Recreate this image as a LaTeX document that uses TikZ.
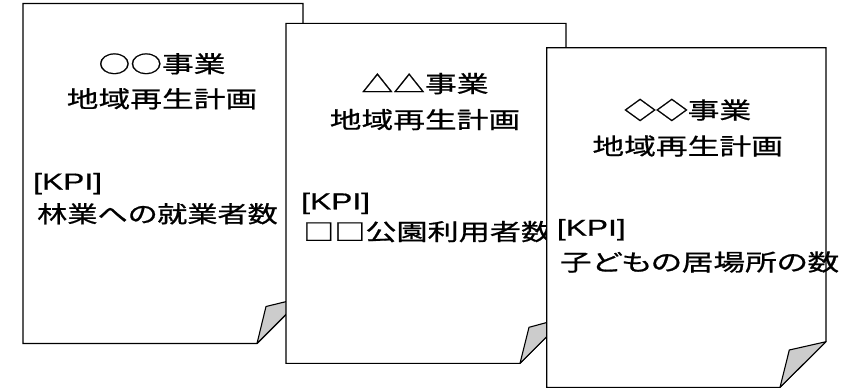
\documentclass[tikz,border=0pt]{standalone}
\usepackage{fontspec}
\usepackage{graphicx}
\newfontfamily\jp[FakeStretch=1.38,FakeBold=0.8]{Noto Sans CJK JP}
\newfontfamily\jpp[FakeStretch=1.38,FakeBold=0.8,RawFeature=+palt]{Noto Sans CJK JP}
\newfontfamily\lat[FakeStretch=1.38,FakeBold=0.5]{Liberation Sans}
\begin{document}
\begin{tikzpicture}[x=1bp,y=-1bp,
  page/.style={draw=black,line width=1.1bp,fill=white,line join=miter},
  flap/.style={draw=black,line width=1.1bp,fill=gray!40,line join=round},
  title/.style={anchor=base,inner sep=0pt,font=\jp\fontsize{23bp}{23bp}\selectfont},
  kpi/.style={anchor=base west,inner sep=0pt,font=\lat\fontsize{23bp}{23bp}\selectfont},
  item/.style={anchor=base west,inner sep=0pt,font=\jpp\fontsize{23bp}{23bp}\selectfont}]
\useasboundingbox (0,0) rectangle (843,391);

% page 1
\begin{scope}[shift={(23,3.5)}]
  \path[page] (0,0) coordinate (p1tl) -- (280,0) -- (280,294) coordinate (p1r) -- (234,340) coordinate (p1b) -- (0,340) -- cycle;
  \path[flap] (p1b) -- (243,303) coordinate (p1f) -- (p1r) -- cycle;
  \node[title] (t1a) at (139,69) {○○事業};
  \node[title] (t1b) at (139,104) {地域再生計画};
  \node[kpi] (k1) at (10,186) {[KPI]};
  \node[item] (i1) at (14,219) {\scalebox{0.95}[1]{林業への就業者数}};
\end{scope}

% page 2
\begin{scope}[shift={(286,23.3)}]
  \path[page] (0,0) coordinate (p2tl) -- (280,0) -- (280,294) coordinate (p2r) -- (234,340) coordinate (p2b) -- (0,340) -- cycle;
  \path[flap] (p2b) -- (243,304) coordinate (p2f) -- (p2r) -- cycle;
  \node[title] (t2a) at (139,69) {△△事業};
  \node[title] (t2b) at (139,105) {地域再生計画};
  \node[kpi] (k2) at (15,186) {[KPI]};
  \node[item] (i2) at (17,217) {\scalebox{0.98}[1]{□□公園利用者数}};
\end{scope}

% page 3
\begin{scope}[shift={(546.7,47.7)}]
  \path[page] (0,0) coordinate (p3tl) -- (279.3,0) -- (279.3,294) coordinate (p3r) -- (233.3,339.6) coordinate (p3b) -- (0,339.6) -- cycle;
  \path[flap] (p3b) -- (242.6,302.3) coordinate (p3f) -- (p3r) -- cycle;
  \node[title] (t3a) at (141,71) {◇◇事業};
  \node[title] (t3b) at (141,107) {地域再生計画};
  \node[kpi] (k3) at (10,188) {[KPI]};
  \node[item] (i3) at (13,223) {子どもの居場所の数};
\end{scope}
\end{tikzpicture}
\end{document}
